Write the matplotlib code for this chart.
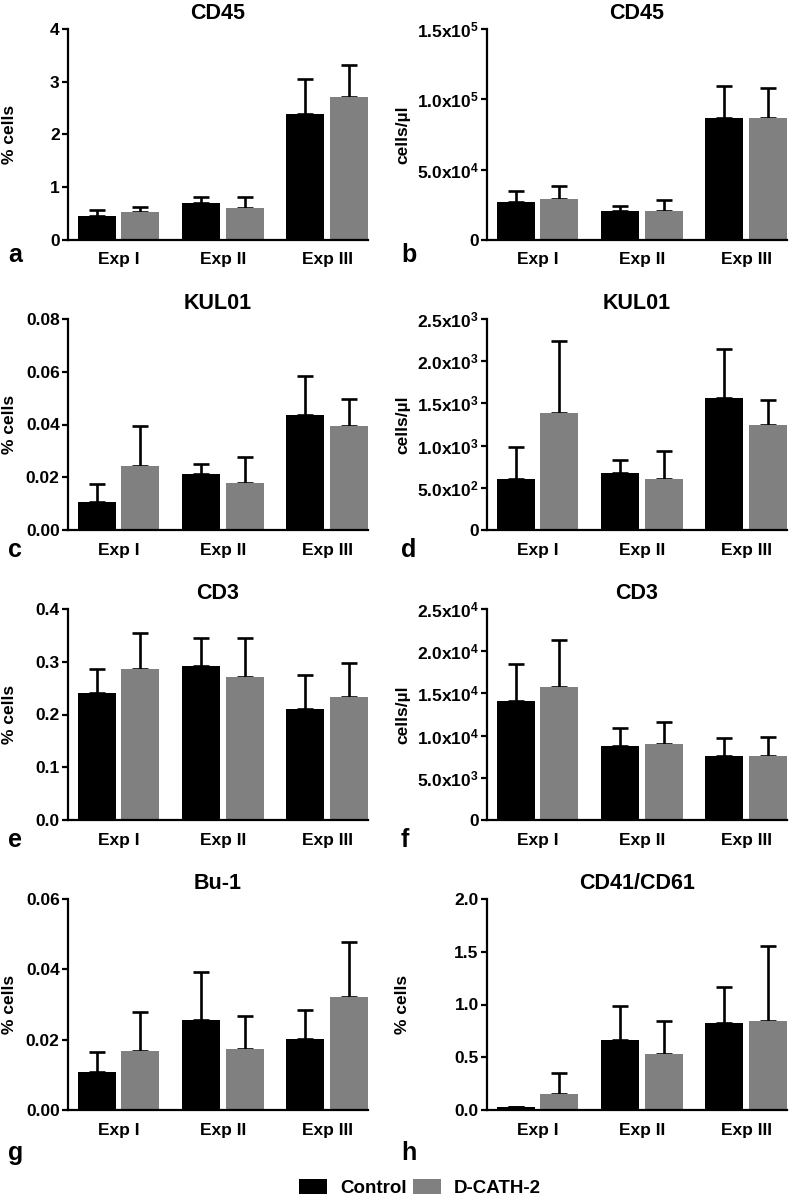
import matplotlib
matplotlib.use("Agg")
import matplotlib.pyplot as plt
from matplotlib.patches import Patch

# Fonts: bold Arial-like look
plt.rcParams['font.family'] = ['Liberation Sans', 'DejaVu Sans']
plt.rcParams['font.weight'] = 'bold'
plt.rcParams['mathtext.fontset'] = 'custom'
plt.rcParams['mathtext.rm'] = 'Liberation Sans:bold'
plt.rcParams['mathtext.it'] = 'Liberation Sans:bold'
plt.rcParams['mathtext.bf'] = 'Liberation Sans:bold'
plt.rcParams['mathtext.default'] = 'rm'

# Groups and series
experiments = ["Exp I", "Exp II", "Exp III"]
series_names = ["Control", "D-CATH-2"]
series_colors = ["#000000", "#808080"]

# Panel a: CD45 % cells
cd45_pct_ctrl = [0.455, 0.695, 2.39]
cd45_pct_ctrl_err = [0.115, 0.125, 0.66]
cd45_pct_dcath = [0.53, 0.61, 2.71]
cd45_pct_dcath_err = [0.09, 0.20, 0.61]

# Panel b: CD45 cells/ul
cd45_abs_ctrl = [26800, 20900, 86500]
cd45_abs_ctrl_err = [8300, 3300, 23000]
cd45_abs_dcath = [29400, 20900, 86500]
cd45_abs_dcath_err = [9000, 7300, 21500]

# Panel c: KUL01 % cells
kul_pct_ctrl = [0.0106, 0.0212, 0.0435]
kul_pct_ctrl_err = [0.0070, 0.0037, 0.0149]
kul_pct_dcath = [0.0243, 0.0179, 0.0394]
kul_pct_dcath_err = [0.0151, 0.0097, 0.0101]

# Panel d: KUL01 cells/ul
kul_abs_ctrl = [608, 671, 1560]
kul_abs_ctrl_err = [371, 164, 585]
kul_abs_dcath = [1382, 608, 1240]
kul_abs_dcath_err = [857, 324, 300]

# Panel e: CD3 % cells
cd3_pct_ctrl = [0.241, 0.291, 0.211]
cd3_pct_ctrl_err = [0.046, 0.054, 0.063]
cd3_pct_dcath = [0.287, 0.271, 0.234]
cd3_pct_dcath_err = [0.068, 0.074, 0.063]

# Panel f: CD3 cells/ul
cd3_abs_ctrl = [14100, 8800, 7550]
cd3_abs_ctrl_err = [4350, 2150, 2200]
cd3_abs_dcath = [15800, 9050, 7550]
cd3_abs_dcath_err = [5500, 2550, 2300]

# Panel g: Bu-1 % cells
bu1_pct_ctrl = [0.0107, 0.0255, 0.0201]
bu1_pct_ctrl_err = [0.0058, 0.0137, 0.0083]
bu1_pct_dcath = [0.0167, 0.0173, 0.0322]
bu1_pct_dcath_err = [0.0113, 0.0093, 0.0157]

# Panel h: CD41/CD61 % cells
cd41_pct_ctrl = [0.03, 0.667, 0.821]
cd41_pct_ctrl_err = [0.0, 0.319, 0.342]
cd41_pct_dcath = [0.155, 0.528, 0.847]
cd41_pct_dcath_err = [0.199, 0.319, 0.708]

# Axis ticks and labels
ticks_a = [0, 1, 2, 3, 4]
labels_a = ["0", "1", "2", "3", "4"]
ticks_b = [0, 50000, 100000, 150000]
labels_b = ["0", r"$5.0x10^{4}$", r"$1.0x10^{5}$", r"$1.5x10^{5}$"]
ticks_c = [0, 0.02, 0.04, 0.06, 0.08]
labels_c = ["0.00", "0.02", "0.04", "0.06", "0.08"]
ticks_d = [0, 500, 1000, 1500, 2000, 2500]
labels_d = ["0", r"$5.0x10^{2}$", r"$1.0x10^{3}$", r"$1.5x10^{3}$",
            r"$2.0x10^{3}$", r"$2.5x10^{3}$"]
ticks_e = [0, 0.1, 0.2, 0.3, 0.4]
labels_e = ["0.0", "0.1", "0.2", "0.3", "0.4"]
ticks_f = [0, 5000, 10000, 15000, 20000, 25000]
labels_f = ["0", r"$5.0x10^{3}$", r"$1.0x10^{4}$", r"$1.5x10^{4}$",
            r"$2.0x10^{4}$", r"$2.5x10^{4}$"]
ticks_g = [0, 0.02, 0.04, 0.06]
labels_g = ["0.00", "0.02", "0.04", "0.06"]
ticks_h = [0, 0.5, 1.0, 1.5, 2.0]
labels_h = ["0.0", "0.5", "1.0", "1.5", "2.0"]

panels = [
    ("a", "CD45", "% cells", cd45_pct_ctrl, cd45_pct_ctrl_err, cd45_pct_dcath, cd45_pct_dcath_err, ticks_a, labels_a),
    ("b", "CD45", "cells/µl", cd45_abs_ctrl, cd45_abs_ctrl_err, cd45_abs_dcath, cd45_abs_dcath_err, ticks_b, labels_b),
    ("c", "KUL01", "% cells", kul_pct_ctrl, kul_pct_ctrl_err, kul_pct_dcath, kul_pct_dcath_err, ticks_c, labels_c),
    ("d", "KUL01", "cells/µl", kul_abs_ctrl, kul_abs_ctrl_err, kul_abs_dcath, kul_abs_dcath_err, ticks_d, labels_d),
    ("e", "CD3", "% cells", cd3_pct_ctrl, cd3_pct_ctrl_err, cd3_pct_dcath, cd3_pct_dcath_err, ticks_e, labels_e),
    ("f", "CD3", "cells/µl", cd3_abs_ctrl, cd3_abs_ctrl_err, cd3_abs_dcath, cd3_abs_dcath_err, ticks_f, labels_f),
    ("g", "Bu-1", "% cells", bu1_pct_ctrl, bu1_pct_ctrl_err, bu1_pct_dcath, bu1_pct_dcath_err, ticks_g, labels_g),
    ("h", "CD41/CD61", "% cells", cd41_pct_ctrl, cd41_pct_ctrl_err, cd41_pct_dcath, cd41_pct_dcath_err, ticks_h, labels_h),
]

W, H = 791, 1199
fig = plt.figure(figsize=(W / 100, H / 100), dpi=100)

# Layout in pixels
col_left = [68, 487]
row_top = [29, 319, 609, 899]
ax_w, ax_h = 300, 211
label_baseline = [262, 557, 847, 1160]
label_x = [8, 401]

bar_w = 0.364
offset = 0.21
x = list(range(len(experiments)))


def draw_panel(ax, title, ylabel, ctrl, ctrl_err, dcath, dcath_err, ticks, tick_labels):
    """Grouped bar panel with upward-only error bars."""
    for vals, errs, color, sign in [(ctrl, ctrl_err, series_colors[0], -1),
                                    (dcath, dcath_err, series_colors[1], 1)]:
        xs = [xi + sign * offset for xi in x]
        ax.errorbar(xs, vals, yerr=[[0] * len(errs), errs], fmt="none",
                    ecolor="black", elinewidth=1.9, capsize=6, capthick=1.9, zorder=1)
        ax.bar(xs, vals, width=bar_w, color=color, zorder=2)

    ax.set_xlim(-0.483, 2.39)
    ax.set_ylim(ticks[0], ticks[-1])
    ax.set_yticks(ticks)
    ax.set_yticklabels(tick_labels, fontsize=12.5, fontweight="bold")
    ax.set_xticks(x)
    ax.set_xticklabels(experiments, fontsize=12.5, fontweight="bold")
    ax.tick_params(axis="x", length=0, pad=9)
    ax.tick_params(axis="y", length=4, width=1.6, pad=2)
    for side in ["top", "right"]:
        ax.spines[side].set_visible(False)
    for side in ["left", "bottom"]:
        ax.spines[side].set_linewidth(1.6)
    ax.set_title(title, fontsize=15.5, fontweight="bold", pad=7)
    ax.set_ylabel(ylabel, fontsize=12.5, fontweight="bold")


for i, (letter, title, ylabel, c, ce, d, de, ticks, tl) in enumerate(panels):
    row, col = i // 2, i % 2
    left = col_left[col] / W
    bottom = 1 - (row_top[row] + ax_h) / H
    ax = fig.add_axes([left, bottom, ax_w / W, ax_h / H])
    draw_panel(ax, title, ylabel, c, ce, d, de, ticks, tl)
    if col == 0:
        ax.yaxis.set_label_coords(-0.17, 0.5)
    else:
        ax.yaxis.set_label_coords(-0.257, 0.5)
    fig.text(label_x[col] / W, 1 - label_baseline[row] / H, letter,
             fontsize=18, fontweight="bold", va="baseline", ha="left")

# Shared legend at the bottom
handles = [Patch(facecolor=series_colors[0]), Patch(facecolor=series_colors[1])]
fig.legend(handles, series_names, loc="center", bbox_to_anchor=(420 / W, 1 - 1188 / H),
           ncol=2, frameon=False, prop={"size": 13.5, "weight": "bold"},
           handlelength=1.5, handleheight=0.8, handletextpad=0.7, columnspacing=0.3)

fig.savefig("out.png", dpi=100)
